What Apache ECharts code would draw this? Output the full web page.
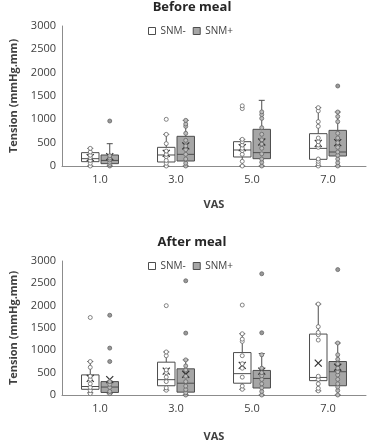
<!DOCTYPE html>
<html>
<head>
<meta charset="utf-8">
<script src="https://cdn.jsdelivr.net/npm/echarts@6/dist/echarts.min.js"></script>
<style>
  html, body { margin: 0; padding: 0; background: #ffffff; }
  #chart { width: 369px; height: 443px; }
</style>
</head>
<body>
<div id="chart"></div>
<script>
// categories and tick labels
const categories = ['1.0', '3.0', '5.0', '7.0']
const yTicks = [0, 500, 1000, 1500, 2000, 2500, 3000]

// five-number summaries per category: [min, q1, median, q3, max]
const beforeNegBox = [[0, 93, 157, 286, 378], [0, 86, 236, 400, 678], [0, 193, 343, 521, 571], [0, 143, 378, 693, 1250]]
const beforePosBox = [[0, 50, 120, 236, 478], [0, 107, 250, 636, 978], [0, 157, 286, 786, 1407], [0, 214, 300, 764, 1157]]
const afterNegBox = [[50, 128, 190, 450, 750], [107, 207, 343, 735, 964], [128, 264, 478, 950, 1371], [93, 321, 393, 1364, 2036]]
const afterPosBox = [[30, 57, 178, 300, 310], [0, 64, 264, 586, 786], [0, 157, 371, 550, 928], [0, 207, 521, 750, 1164]]

// means
const beforeNegMean = [180, 270, 393, 486]
const beforePosMean = [200, 430, 514, 500]
const afterNegMean = [371, 536, 664, 714]
const afterPosMean = [343, 464, 536, 621]

// inner points
const beforeNegPts = [[0, 60, 120, 180, 230, 300, 378], [0, 60, 120, 200, 250, 320, 480, 678], [0, 100, 250, 330, 380, 450, 520, 571], [0, 50, 100, 150, 400, 450, 520, 600, 850, 950, 1180, 1250]]
const beforePosPts = [[0, 30, 80, 130, 170, 220], [0, 60, 150, 250, 350, 430, 550, 700, 850, 900, 978], [0, 80, 150, 260, 380, 470, 560, 680, 820, 1020, 1100, 1160], [0, 70, 150, 230, 300, 400, 500, 600, 700, 950, 1060, 1157]]
const afterNegPts = [[30, 100, 170, 250, 350, 420, 620, 750], [107, 160, 300, 400, 500, 560, 880, 964], [128, 200, 400, 600, 700, 880, 1200, 1250, 1371], [93, 150, 250, 350, 420, 1230, 1350, 1400, 1530, 2036]]
const afterPosPts = [[30, 80, 170, 240, 300], [0, 50, 120, 200, 300, 420, 560, 650, 786], [0, 80, 160, 250, 350, 430, 500, 600, 900], [0, 100, 180, 250, 350, 450, 520, 600, 700, 800, 900, 1164]]

// outliers
const beforeNegOut = [[], [1000], [1230, 1290], []]
const beforePosOut = [[964], [], [], [1714]]
const afterNegOut = [[1735], [2000], [2014], []]
const afterPosOut = [[750, 1050, 1786], [1386, 2557], [1393, 2714], [2807]]

const TEXT = '#404040'
const AXIS = '#8c8c8c'
const EDGE = '#4d4d4d'
const GREY = '#a6a6a6'
const FONT = 'Open Sans'

const boxData = (box, mean) => box.map((b, i) => [i, ...b, mean[i]])
const ptData = (pts) => pts.flatMap((arr, i) => arr.map((v) => [i, v]))

// box + whiskers + median + mean cross
const boxRender = (offset, fill) => (params, api) => {
  const x = api.value(0)
  const band = api.size([1, 0])[0]
  const w = band * 0.23
  const cx = api.coord([x, 0])[0] + offset * (w / 2 + 1)
  const y = (v) => api.coord([x, v])[1]
  const lo = y(api.value(1)), q1 = y(api.value(2)), md = y(api.value(3))
  const q3 = y(api.value(4)), hi = y(api.value(5)), mn = y(api.value(6))
  const ls = { stroke: EDGE, lineWidth: 1 }
  const cap = 3
  const m = 3.5
  return {
    type: 'group',
    children: [
      { type: 'line', shape: { x1: cx, y1: hi, x2: cx, y2: q3 }, style: ls },
      { type: 'line', shape: { x1: cx, y1: q1, x2: cx, y2: lo }, style: ls },
      { type: 'line', shape: { x1: cx - cap, y1: hi, x2: cx + cap, y2: hi }, style: ls },
      { type: 'line', shape: { x1: cx - cap, y1: lo, x2: cx + cap, y2: lo }, style: ls },
      { type: 'rect', shape: { x: cx - w / 2, y: q3, width: w, height: q1 - q3 }, style: { fill: fill, stroke: EDGE, lineWidth: 1 } },
      { type: 'line', shape: { x1: cx - w / 2, y1: md, x2: cx + w / 2, y2: md }, style: ls },
      { type: 'line', shape: { x1: cx - m, y1: mn - m, x2: cx + m, y2: mn + m }, style: { stroke: '#333', lineWidth: 1.2 }, z2: 10 },
      { type: 'line', shape: { x1: cx - m, y1: mn + m, x2: cx + m, y2: mn - m }, style: { stroke: '#333', lineWidth: 1.2 }, z2: 10 }
    ]
  }
}

const ptRender = (offset, fill) => (params, api) => {
  const x = api.value(0)
  const band = api.size([1, 0])[0]
  const w = band * 0.23
  const c = api.coord([x, api.value(1)])
  return {
    type: 'circle',
    shape: { cx: c[0] + offset * (w / 2 + 1), cy: c[1], r: 2 },
    style: { fill: fill, stroke: '#666', lineWidth: 0.8 }
  }
}

const makeSeries = (gi, negBox, negMean, posBox, posMean, negPts, posPts, negOut, posOut) => [
  { name: 'SNM-', type: 'custom', xAxisIndex: gi, yAxisIndex: gi, itemStyle: { color: '#fff' }, renderItem: boxRender(-1, '#ffffff'), data: boxData(negBox, negMean), z: 2 },
  { name: 'SNM+', type: 'custom', xAxisIndex: gi, yAxisIndex: gi, itemStyle: { color: GREY }, renderItem: boxRender(1, GREY), data: boxData(posBox, posMean), z: 2 },
  { type: 'custom', xAxisIndex: gi, yAxisIndex: gi, renderItem: ptRender(-1, '#ffffff'), data: ptData(negPts), z: 3 },
  { type: 'custom', xAxisIndex: gi, yAxisIndex: gi, renderItem: ptRender(1, '#bdbdbd'), data: ptData(posPts), z: 3 },
  { type: 'custom', xAxisIndex: gi, yAxisIndex: gi, renderItem: ptRender(-1, '#ffffff'), data: ptData(negOut), z: 3 },
  { type: 'custom', xAxisIndex: gi, yAxisIndex: gi, renderItem: ptRender(1, '#999999'), data: ptData(posOut), z: 3 }
]

const xAxisOf = (gi) => ({
  type: 'category',
  gridIndex: gi,
  data: categories,
  name: 'VAS',
  nameLocation: 'middle',
  nameGap: gi === 0 ? 33 : 36,
  nameTextStyle: { color: TEXT, fontSize: 11, fontWeight: 'bold', fontFamily: FONT },
  axisLine: { lineStyle: { color: AXIS } },
  axisTick: { show: false },
  axisLabel: { color: TEXT, fontSize: 11, fontFamily: FONT, margin: 8 }
})

const yAxisOf = (gi) => ({
  type: 'value',
  gridIndex: gi,
  min: yTicks[0],
  max: yTicks[yTicks.length - 1],
  interval: 500,
  name: 'Tension (mmHg.mm)',
  nameLocation: 'middle',
  nameGap: 43,
  nameTextStyle: { color: TEXT, fontSize: 11, fontWeight: 'bold', fontFamily: FONT },
  axisLine: { show: true, lineStyle: { color: AXIS } },
  axisTick: { show: false },
  splitLine: { show: false },
  axisLabel: { color: TEXT, fontSize: 11, fontFamily: FONT, margin: 6, formatter: (v) => String(v) }
})

const legendOf = (top) => ({
  top: top,
  left: 143,
  itemWidth: 7,
  itemHeight: 7,
  itemGap: 7,
  textStyle: { color: TEXT, fontSize: 10, fontFamily: FONT },
  data: [
    { name: 'SNM-', icon: 'rect', itemStyle: { color: '#ffffff', borderColor: EDGE, borderWidth: 1 } },
    { name: 'SNM+', icon: 'rect', itemStyle: { color: GREY, borderColor: EDGE, borderWidth: 1 } }
  ]
})

const chart = echarts.init(document.getElementById('chart'), null, { renderer: 'canvas' })
chart.setOption({
  animation: false,
  backgroundColor: '#ffffff',
  title: [
    { text: 'Before meal', left: 187, top: -4, textAlign: 'center', textStyle: { color: '#262626', fontSize: 13, fontWeight: 'bold', fontFamily: FONT } },
    { text: 'After meal', left: 187, top: 231, textAlign: 'center', textStyle: { color: '#262626', fontSize: 13, fontWeight: 'bold', fontFamily: FONT } }
  ],
  legend: [legendOf(21), legendOf(256)],
  grid: [
    { left: 58, top: 26, width: 308, height: 140 },
    { left: 58, top: 261, width: 308, height: 140 }
  ],
  xAxis: [xAxisOf(0), xAxisOf(1)],
  yAxis: [yAxisOf(0), yAxisOf(1)],
  series: [
    ...makeSeries(0, beforeNegBox, beforeNegMean, beforePosBox, beforePosMean, beforeNegPts, beforePosPts, beforeNegOut, beforePosOut),
    ...makeSeries(1, afterNegBox, afterNegMean, afterPosBox, afterPosMean, afterNegPts, afterPosPts, afterNegOut, afterPosOut)
  ]
})
</script>
</body>
</html>
